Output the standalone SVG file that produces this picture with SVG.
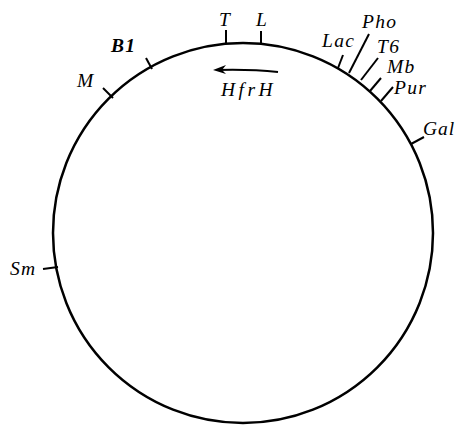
<svg xmlns="http://www.w3.org/2000/svg" width="457" height="425" viewBox="0 0 457 425">
<style>
.c{fill:none;stroke:#000;stroke-width:2.5}
.t{stroke:#000;stroke-width:2;fill:none}
.l{font-family:"Liberation Serif","DejaVu Serif",serif;font-style:italic;font-size:19.5px;fill:#000;letter-spacing:1.3px}
.b{font-weight:bold}
</style>
<rect width="457" height="425" fill="#fff"/>
<g id="chromosome"><circle class="c" cx="243" cy="233" r="190"/></g>
<g id="connectors">
<line class="t" x1="226" y1="30" x2="226" y2="44"/>
<line class="t" x1="261" y1="31" x2="261" y2="45"/>
<line class="t" x1="146" y1="58" x2="152" y2="69"/>
<line class="t" x1="103" y1="88" x2="113" y2="98"/>
<line class="t" x1="343" y1="55" x2="338" y2="68"/>
<line class="t" x1="369" y1="34" x2="349" y2="73"/>
<line class="t" x1="378" y1="58" x2="361" y2="80"/>
<line class="t" x1="381" y1="78" x2="370" y2="91"/>
<line class="t" x1="393" y1="87" x2="381" y2="101"/>
<line class="t" x1="424" y1="137" x2="411" y2="144"/>
<line class="t" x1="43" y1="269" x2="58" y2="267"/>
<path d="M278 72 Q250 69 216 70" fill="none" stroke="#000" stroke-width="2.2"/>
<path d="M213 70 L226 65 L222 70 L226 74 Z" fill="#000"/>
</g>
<g id="labels">
<text class="l" x="219" y="26">T</text>
<text class="l" x="256" y="26">L</text>
<text class="l b" x="111" y="52">B1</text>
<text class="l" x="77" y="87">M</text>
<text class="l" x="221" y="96" style="letter-spacing:3.5px">HfrH</text>
<text class="l" x="322" y="47">Lac</text>
<text class="l" x="362" y="28">Pho</text>
<text class="l" x="377" y="53">T6</text>
<text class="l" x="387" y="73">Mb</text>
<text class="l" x="394" y="94">Pur</text>
<text class="l" x="423" y="135" style="letter-spacing:1px">Gal</text>
<text class="l" x="10" y="275">Sm</text>
</g>
</svg>
